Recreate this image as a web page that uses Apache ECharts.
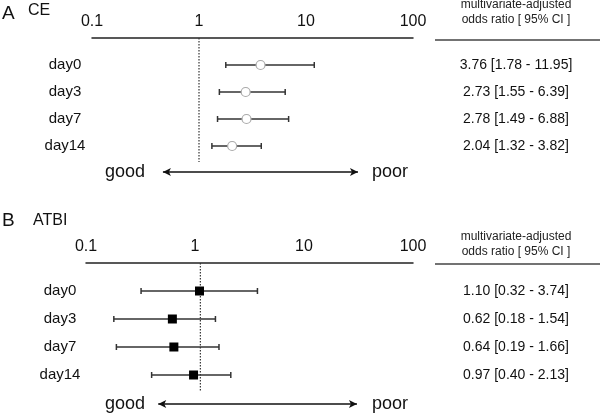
<!DOCTYPE html>
<html><head><meta charset="utf-8">
<script src="https://cdn.jsdelivr.net/npm/echarts@6/dist/echarts.min.js"></script>
<style>html,body{margin:0;padding:0;background:#fff}#c{width:600px;height:416px}</style>
</head><body><div id="c"></div>
<script>
const categories = ['day0', 'day3', 'day7', 'day14'];
const ceOR = [3.76, 2.73, 2.78, 2.04];
const ceLo = [1.78, 1.55, 1.49, 1.32];
const ceHi = [11.95, 6.39, 6.88, 3.82];
const atbiOR = [1.10, 0.62, 0.64, 0.97];
const atbiLo = [0.32, 0.18, 0.19, 0.40];
const atbiHi = [3.74, 1.54, 1.66, 2.13];
const xTickLabels = ['0.1', '1', '10', '100'];
const panelTitles = [['A', 'CE'], ['B', 'ATBI']];
const headerLines = ['multivariate-adjusted', 'odds ratio [ 95% CI ]'];
const refLineValue = [1, 1.12];
const arrowEnds = [0.46, 30.6];

const FONT = '"Liberation Sans", Arial, Helvetica, sans-serif';
const chart = echarts.init(document.getElementById('c'), null, {renderer: 'canvas'});

function ciText(o, l, h) { return o.toFixed(2) + ' [' + l.toFixed(2) + ' - ' + h.toFixed(2) + ']'; }

function makeY(gi, right, ors, los, his, margin) {
  return {
    type: 'value', gridIndex: gi, inverse: true, min: -1, max: 4.1, interval: 1,
    position: right ? 'right' : 'left',
    axisLine: {show: false, onZero: false}, axisTick: {show: false}, splitLine: {show: false},
    axisLabel: {
      show: true, margin: margin, align: 'center', showMaxLabel: false,
      color: '#111', fontFamily: FONT, fontSize: right ? 14 : 15,
      formatter: function (v) {
        const i = Math.round(v);
        if (Math.abs(v - i) > 1e-6 || i < 0 || i >= categories.length) return '';
        return right ? ciText(ors[i], los[i], his[i]) : categories[i];
      }
    }
  };
}
function makeX(gi) {
  return {
    type: 'log', logBase: 10, gridIndex: gi, min: 0.1, max: 100, position: 'top',
    axisLine: {show: true, onZero: false, lineStyle: {color: '#222', width: 1.5}},
    axisTick: {show: false}, splitLine: {show: false},
    axisLabel: {
      margin: 8, color: '#111', fontFamily: FONT, fontSize: 16,
      formatter: function (v) {
        const e = Math.round(Math.log10(v)) + 1;
        return xTickLabels[e] !== undefined ? xTickLabels[e] : '';
      }
    }
  };
}
function forest(gi, ors, los, his, openMarker) {
  const data = ors.map((o, i) => [o, i, los[i], his[i]]);
  return {
    type: 'custom', xAxisIndex: gi, yAxisIndex: gi * 2, data: data,
    encode: {x: 0, y: 1}, z: 5,
    renderItem: function (params, api) {
      const row = api.value(1);
      const p = api.coord([api.value(0), row]);
      const pl = api.coord([api.value(2), row]);
      const ph = api.coord([api.value(3), row]);
      const st = {stroke: '#333', lineWidth: 1.5};
      const children = [
        {type: 'line', shape: {x1: pl[0], y1: p[1], x2: ph[0], y2: p[1]}, style: st},
        {type: 'line', shape: {x1: pl[0], y1: p[1] - 3, x2: pl[0], y2: p[1] + 3}, style: st},
        {type: 'line', shape: {x1: ph[0], y1: p[1] - 3, x2: ph[0], y2: p[1] + 3}, style: st}
      ];
      if (openMarker) {
        children.push({type: 'circle', shape: {cx: p[0], cy: p[1], r: 4.5}, style: {fill: '#fff', stroke: '#aaa', lineWidth: 1.2}});
      } else {
        children.push({type: 'rect', shape: {x: p[0] - 4.5, y: p[1] - 4.5, width: 9, height: 9}, style: {fill: '#000'}});
      }
      return {type: 'group', children: children};
    }
  };
}
function refSeries(gi, xv, yEnd, yArrow) {
  return {
    type: 'line', xAxisIndex: gi, yAxisIndex: gi * 2, symbol: 'none', z: 2,
    data: [[xv, -1], [xv, yEnd]],
    lineStyle: {type: [1.5, 1.5], color: '#333', width: 1.2},
    markLine: {
      silent: true, symbol: ['arrow', 'arrow'], symbolSize: [6, 8],
      label: {show: false},
      lineStyle: {type: 'solid', color: '#111', width: 1.5},
      data: [[{coord: [arrowEnds[0], yArrow]}, {coord: [arrowEnds[1], yArrow]}]]
    }
  };
}

const grids = [
  {left: 92, top: 38, width: 321, height: 5.1 * 27},
  {left: 86, top: 263, width: 327, height: 5.1 * 28}
];

const graphics = [];
const letterTop = [4, 211];
const nameTop = [3, 213];
const headerY = [-1, 231];
const ruleY = [40, 264];
const arrowY = [172, 404];
for (let k = 0; k < 2; k++) {
  graphics.push({type: 'text', left: 2, top: letterTop[k], style: {text: panelTitles[k][0], font: '19px ' + FONT, fill: '#111'}});
  graphics.push({type: 'text', left: k === 0 ? 28 : 33, top: nameTop[k], style: {text: panelTitles[k][1], font: '16px ' + FONT, fill: '#111'}});
  graphics.push({type: 'text', x: 516, y: headerY[k], style: {text: headerLines[0], font: '12px ' + FONT, fill: '#222', textAlign: 'center', textVerticalAlign: 'top'}});
  graphics.push({type: 'text', x: 516, y: headerY[k] + 15, style: {text: headerLines[1], font: '12px ' + FONT, fill: '#222', textAlign: 'center', textVerticalAlign: 'top'}});
  graphics.push({type: 'line', shape: {x1: 435, y1: ruleY[k], x2: 600, y2: ruleY[k]}, style: {stroke: '#444', lineWidth: 1.5}});
  graphics.push({type: 'text', x: 125, y: arrowY[k], style: {text: 'good', font: '18px ' + FONT, fill: '#111', textAlign: 'center', textVerticalAlign: 'middle'}});
  graphics.push({type: 'text', x: 390, y: arrowY[k], style: {text: 'poor', font: '18px ' + FONT, fill: '#111', textAlign: 'center', textVerticalAlign: 'middle'}});
}

chart.setOption({
  animation: false,
  backgroundColor: '#fff',
  grid: grids,
  xAxis: [makeX(0), makeX(1)],
  yAxis: [
    makeY(0, false, ceOR, ceLo, ceHi, 27),
    makeY(0, true, ceOR, ceLo, ceHi, 103),
    makeY(1, false, atbiOR, atbiLo, atbiHi, 26),
    makeY(1, true, atbiOR, atbiLo, atbiHi, 103)
  ],
  series: [
    refSeries(0, refLineValue[0], 3.59, 3.96),
    forest(0, ceOR, ceLo, ceHi, true),
    refSeries(1, refLineValue[1], 3.6, 4.04),
    forest(1, atbiOR, atbiLo, atbiHi, false)
  ],
  graphic: graphics
});
</script></body></html>
